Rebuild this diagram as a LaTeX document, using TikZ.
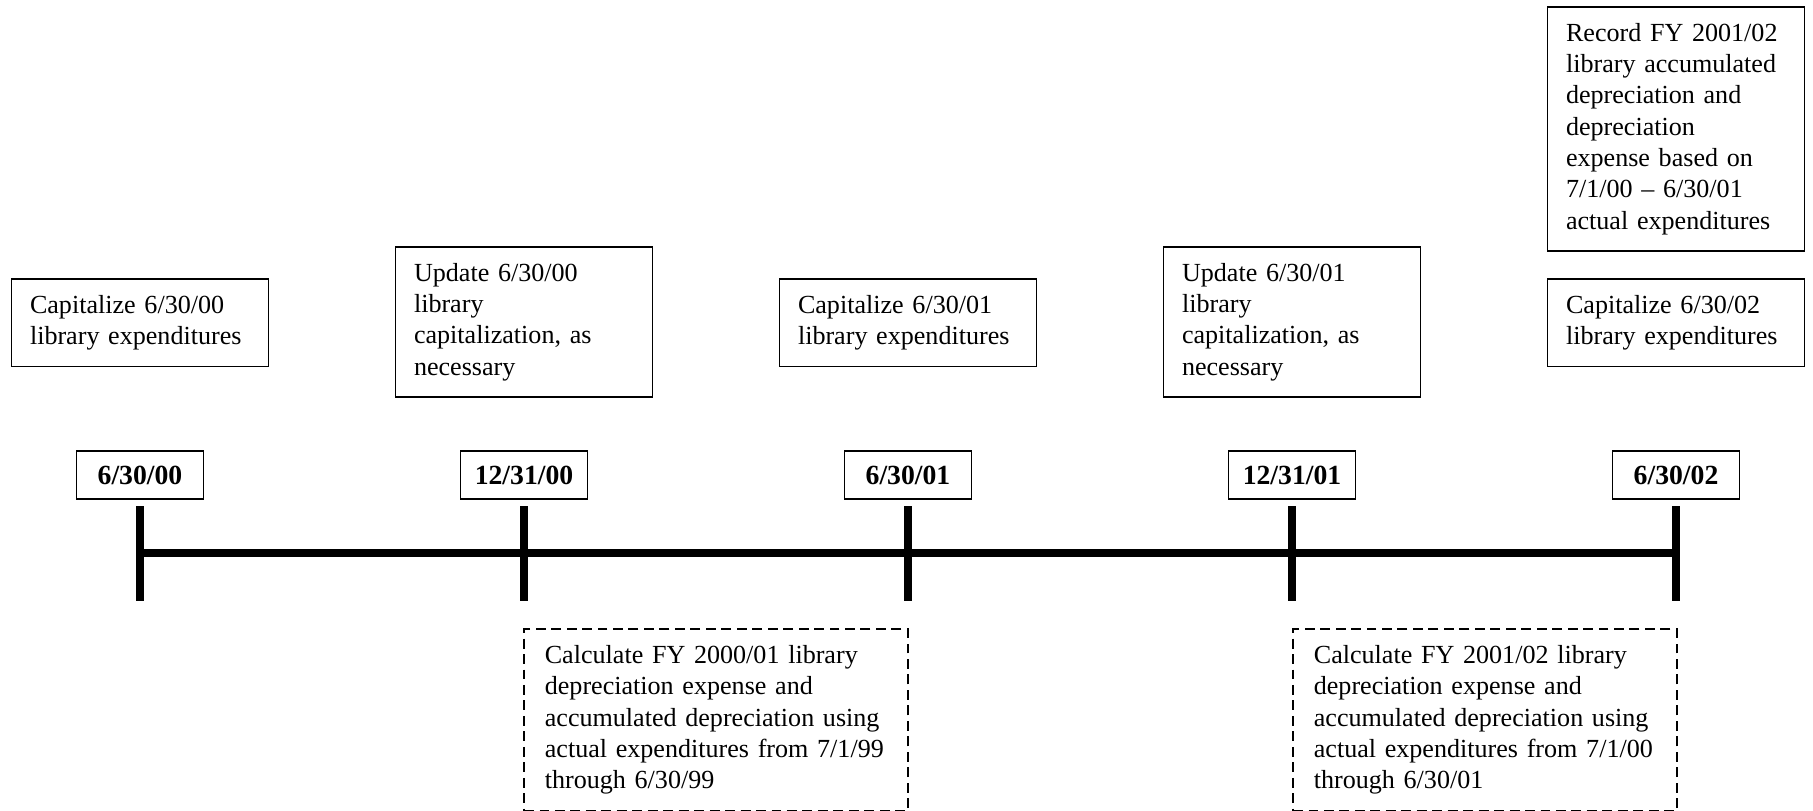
\documentclass[tikz,border=0pt]{standalone}
\usepackage{fontspec}
\setmainfont{Liberation Serif}

\newcommand{\tlfont}{\fontsize{11.3}{13.56}\selectfont}

\tikzset{
    axis/.style={line width=3.5pt},
    datebox/.style={draw, line width=0.45pt, font=\fontsize{12}{14}\selectfont\bfseries, minimum width=55pt, minimum height=20.8pt, inner sep=0pt},
    notebox/.style={draw, line width=0.7pt, font=\tlfont, align=left, text width=95.3pt, inner xsep=8pt, inner ysep=7.1pt, anchor=north},
    calcbox/.style={notebox, line width=1pt, dash pattern=on 4.3pt off 2.4pt, text width=148.3pt, inner xsep=9pt}
}

\begin{document}
\begin{tikzpicture}[x=0.4332pt, y=-0.4332pt]
    % Define dimensions
    \def\gap{384}
    \def\axisy{553}
    \useasboundingbox (0,0) rectangle (1813,810);
    % Tick positions on the time axis
    \foreach \i in {0,...,4}
        \coordinate (t\i) at (140+\i*\gap, \axisy);
    % Time axis with ticks
    \draw[axis] (t0) -- (t4);
    \foreach \i in {0,...,4}
        \draw[axis] (t\i) ++(0,-47) -- ++(0,95);
    % Dates
    \node[datebox] (d0) at (140,475) {6/30/00};
    \node[datebox] (d1) at (524,475) {12/31/00};
    \node[datebox] (d2) at (908,475) {6/30/01};
    \node[datebox] (d3) at (1292,475) {12/31/01};
    \node[datebox] (d4) at (1676,475) {6/30/02};
    % Tasks above the axis
    \node[notebox] (cap00) at (140,278) {Capitalize 6/30/00\\library expenditures};
    \node[notebox] (upd00) at (524,246) {Update 6/30/00\\library\\capitalization, as\\necessary};
    \node[notebox] (cap01) at (908,278) {Capitalize 6/30/01\\library expenditures};
    \node[notebox] (upd01) at (1292,246) {Update 6/30/01\\library\\capitalization, as\\necessary};
    \node[notebox] (rec02) at (1676,6) {Record FY 2001/02\\library accumulated\\depreciation and\\depreciation\\expense based on\\7/1/00 -- 6/30/01\\actual expenditures};
    \node[notebox] (cap02) at (1676,278) {Capitalize 6/30/02\\library expenditures};
    % Calculations below the axis
    \node[calcbox] (calc01) at (716,628) {Calculate FY 2000/01 library\\depreciation expense and\\accumulated depreciation using\\actual expenditures from 7/1/99\\through 6/30/99};
    \node[calcbox] (calc02) at (1485,628) {Calculate FY 2001/02 library\\depreciation expense and\\accumulated depreciation using\\actual expenditures from 7/1/00\\through 6/30/01};
\end{tikzpicture}
\end{document}
